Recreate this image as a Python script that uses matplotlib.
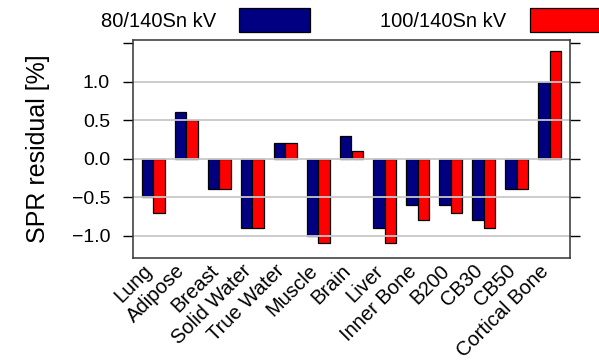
import numpy as np
import matplotlib.pyplot as plt

plt.rcParams['font.family'] = ['Liberation Sans', 'DejaVu Sans']

# data
materials = ['Lung', 'Adipose', 'Breast', 'Solid Water', 'True Water', 'Muscle',
             'Brain', 'Liver', 'Inner Bone', 'B200', 'CB30', 'CB50', 'Cortical Bone']
spr_80 = [-0.5, 0.6, -0.4, -0.9, 0.2, -1.0, 0.3, -0.9, -0.6, -0.6, -0.8, -0.4, 1.0]
spr_100 = [-0.7, 0.5, -0.4, -0.9, 0.2, -1.1, 0.1, -1.1, -0.8, -0.7, -0.9, -0.4, 1.4]
labels = ['80/140Sn kV', '100/140Sn kV']
colors = ['#000080', '#ff0000']

yticks = [-1.0, -0.5, 0.0, 0.5, 1.0, 1.5]
ytick_labels = ['\u22121.0', '\u22120.5', '0.0', '0.5', '1.0', '']
grid_vals = [-1.0, -0.5, 0.0, 0.5, 1.0]

fig = plt.figure(figsize=(5.99, 3.6), dpi=100)
ax = fig.add_axes([133 / 599, 1 - 258 / 360, 437 / 599, 218 / 360])

x = np.arange(len(materials))
w = 0.345
b1 = ax.bar(x - w / 2, spr_80, w, color=colors[0], edgecolor='black', linewidth=0.9, zorder=1)
b2 = ax.bar(x + w / 2, spr_100, w, color=colors[1], edgecolor='black', linewidth=0.9, zorder=1)

# grey reference lines sit on top of the bars, like in the original
for g in grid_vals:
    ax.axhline(g, color='#c8c8c8', linewidth=1.3, zorder=2)

ax.set_xlim(-0.61, len(materials) - 1 + 0.61)
ax.set_ylim(-1.29, 1.54)

ax.set_yticks(yticks)
ax.set_yticklabels(ytick_labels, fontsize=14)
ax.tick_params(axis='y', direction='out', length=7.5, width=1, pad=9,
               right=True, left=True, labelright=False)
ax.set_ylabel('SPR residual [%]', fontsize=18)
ax.yaxis.set_label_coords(-0.19, 0.5)

ax.set_xticks(x)
ax.set_xticklabels(materials, rotation=45, ha='right', va='baseline',
                   rotation_mode='anchor', fontsize=14.5)
ax.tick_params(axis='x', length=0, pad=10)

for s in ax.spines.values():
    s.set_linewidth(1.1)
    s.set_color('#333333')

fig.legend([b1, b2], labels, loc='center left', bbox_to_anchor=(101 / 599, 1 - 20 / 360),
           ncol=2, markerfirst=False, frameon=False, fontsize=14.5,
           handlelength=3.5, handleheight=1.45, handletextpad=1.15, columnspacing=3.5,
           borderpad=0, borderaxespad=0)

fig.savefig('out.png', dpi=100)
